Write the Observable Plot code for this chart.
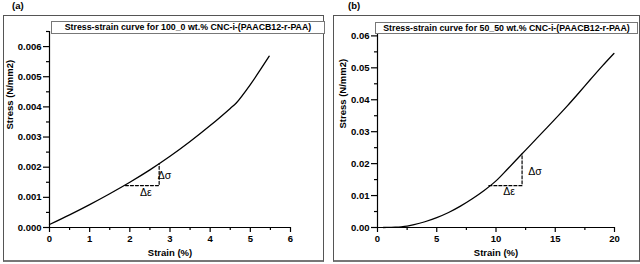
<!DOCTYPE html>
<html>
<head>
<meta charset="utf-8">
<script src="https://cdn.jsdelivr.net/npm/d3@7"></script>
<script src="https://cdn.jsdelivr.net/npm/@observablehq/plot@0.6"></script>
<style>
  html, body { margin: 0; padding: 0; background: #fff; }
  #c { position: relative; width: 640px; height: 264px; overflow: hidden; font-family: "Liberation Sans", Arial, sans-serif; }
  .box { position: absolute; box-sizing: border-box; border: 1px solid #555; border-bottom: 2px solid #777; }
  .tag { position: absolute; font-weight: bold; font-size: 9.5px; line-height: 10px; }
  .leg { position: absolute; box-sizing: border-box; border: 1px solid #777; background: #fff; font-weight: bold; font-size: 8.8px; line-height: 10px; text-align: center; white-space: nowrap; z-index: 5; }
  #c svg { position: absolute; left: 0; top: 0; }
</style>
</head>
<body>
<div id="c">
  <div class="box" style="left:3px;top:15px;width:321px;height:247px;"></div>
  <div class="box" style="left:333px;top:15px;width:307px;height:247px;"></div>
  <div class="tag" style="left:12px;top:1px;">(a)</div>
  <div class="tag" style="left:348px;top:1px;">(b)</div>
  <div class="leg" id="legA" style="left:51px;top:21px;width:274px;height:13px;"></div>
  <div class="leg" id="legB" style="left:375px;top:22px;width:263px;height:12px;"></div>
</div>
<script>
// Panel (a): 100_0 wt.% CNC-i-(PAACB12-r-PAA)
const titleA = "Stress-strain curve for 100_0 wt.% CNC-i-(PAACB12-r-PAA)";
const strainA = [0, 0.5, 1.0, 1.5, 2.0, 2.5, 3.0, 3.5, 4.0, 4.5, 4.65, 5.0, 5.47];
const stressA = [0.0001, 0.00042, 0.00076, 0.00112, 0.0015, 0.00191, 0.00236, 0.00285, 0.00338, 0.00395, 0.00413, 0.00474, 0.00568];
const dashStrainA = [1.89, 2.73, 2.73];
const dashStressA = [0.00139, 0.00139, 0.00212];
const xTicksA = [0, 1, 2, 3, 4, 5, 6];
const xMinorA = [0.5, 1.5, 2.5, 3.5, 4.5, 5.5];
const yTicksA = [0, 0.001, 0.002, 0.003, 0.004, 0.005, 0.006];
const yMinorA = [0.0005, 0.0015, 0.0025, 0.0035, 0.0045, 0.0055, 0.0065];
const domainXA = [0, 6];
const domainYA = [0, 0.0065];
const dsA = {x: 2.86, y: 0.00172};
const deA = {x: 2.4, y: 0.00114};

// Panel (b): 50_50 wt.% CNC-i-(PAACB12-r-PAA)
const titleB = "Stress-strain curve for 50_50 wt.% CNC-i-(PAACB12-r-PAA)";
const strainB = [0.5, 1, 1.5, 2, 2.5, 3, 4, 5, 6, 7, 8, 9, 10, 11, 12, 13, 14, 15, 16, 17, 18, 19, 19.95];
const stressB = [0, 0.00005, 0.0001, 0.0002, 0.0004, 0.0008, 0.0018, 0.0031, 0.0047, 0.0067, 0.009, 0.0116, 0.0146, 0.0184, 0.0223, 0.0262, 0.0301, 0.034, 0.038, 0.0422, 0.0465, 0.0507, 0.0545];
const dashStrainB = [9.4, 12.2, 12.2];
const dashStressB = [0.0131, 0.0131, 0.0231];
const xTicksB = [0, 5, 10, 15, 20];
const xMinorB = [2.5, 7.5, 12.5, 17.5];
const yTicksB = [0, 0.01, 0.02, 0.03, 0.04, 0.05, 0.06];
const yMinorB = [0.005, 0.015, 0.025, 0.035, 0.045, 0.055];
const domainXB = [0, 20];
const domainYB = [0, 0.062];
const dsB = {x: 13.3, y: 0.0176};
const deB = {x: 11.1, y: 0.0112};

const xLabel = "Strain (%)";
const yLabel = "Stress (N/mm2)";

document.getElementById("legA").textContent = titleA;
document.getElementById("legB").textContent = titleB;

function panel(o) {
  const curve = o.strain.map((x, i) => ({x, y: o.stress[i]}));
  const dash = o.dashX.map((x, i) => ({x, y: o.dashY[i]}));
  return Plot.plot({
    width: 640, height: 264,
    marginLeft: o.ml, marginRight: o.mr, marginTop: o.mt, marginBottom: 37,
    style: {fontFamily: "'Liberation Sans', Arial, sans-serif", fontSize: "9.5px", fontWeight: "bold", color: "#000", background: "transparent"},
    x: {domain: o.dx},
    y: {domain: o.dy},
    marks: [
      Plot.ruleX([o.dx[0]], {y1: o.dy[0], y2: o.dy[1], stroke: "#000", strokeWidth: 1.2}),
      Plot.ruleY([o.dy[0]], {x1: o.dx[0], x2: o.dx[1], stroke: "#000", strokeWidth: 1.2}),
      Plot.axisX({ticks: o.xt, tickSize: 5, tickPadding: 3, tickFormat: d3.format("d"), label: null, strokeWidth: 1.2}),
      Plot.axisX({ticks: o.xm, tickSize: 3, tickFormat: null, text: null, label: null, strokeWidth: 1.2}),
      Plot.axisY({ticks: o.yt, tickSize: 6, tickPadding: 2, tickFormat: d3.format(o.yf), label: null, strokeWidth: 1.2}),
      Plot.axisY({ticks: o.ym, tickSize: 3, tickFormat: null, text: null, label: null, strokeWidth: 1.2}),
      Plot.line(curve, {x: "x", y: "y", stroke: "#000", strokeWidth: 1.3, curve: "catmull-rom"}),
      Plot.line(dash, {x: "x", y: "y", stroke: "#000", strokeWidth: 1.2, strokeDasharray: "3,2"}),
      Plot.text([o.ds], {x: "x", y: "y", text: () => "Δσ", fontSize: 10.5, fontWeight: "normal", textAnchor: "middle"}),
      Plot.text([o.de], {x: "x", y: "y", text: () => "Δε", fontSize: 10.5, fontWeight: "normal", textAnchor: "middle"}),
      Plot.text([xLabel], {frameAnchor: "bottom", dy: 28, fontSize: 9.5, fontWeight: "bold"}),
      Plot.text([yLabel], {frameAnchor: "left", dx: o.ylo, rotate: -90, fontSize: 9.5, fontWeight: "bold"})
    ]
  });
}

const c = document.getElementById("c");
c.appendChild(panel({strain: strainA, stress: stressA, dashX: dashStrainA, dashY: dashStressA,
  ml: 49, mr: 350, mt: 31, dx: domainXA, dy: domainYA, xt: xTicksA, xm: xMinorA, yt: yTicksA, ym: yMinorA,
  yf: ".3f", ds: dsA, de: deA, ylo: -40}));
c.appendChild(panel({strain: strainB, stress: stressB, dashX: dashStrainB, dashY: dashStressB,
  ml: 377, mr: 26, mt: 29, dx: domainXB, dy: domainYB, xt: xTicksB, xm: xMinorB, yt: yTicksB, ym: yMinorB,
  yf: ".2f", ds: dsB, de: deB, ylo: -35}));
</script>
</body>
</html>
